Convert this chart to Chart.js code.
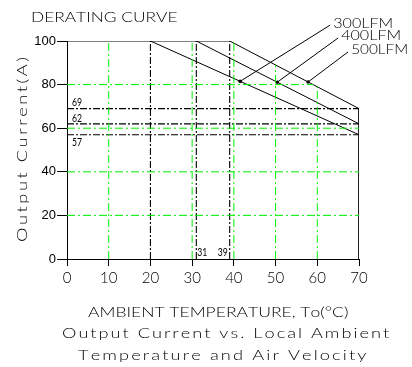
<!DOCTYPE html>
<html>
<head>
<meta charset="utf-8">
<script src="https://cdn.jsdelivr.net/npm/chart.js@4"></script>
<style>
html,body{margin:0;padding:0;background:#fff;}
#wrap{position:relative;width:412px;height:367px;}
</style>
</head>
<body>
<div id="wrap"><canvas id="c" width="412" height="367"></canvas></div>
<script>
// ---- data ----
const xTicks = [0, 10, 20, 30, 40, 50, 60, 70];
const yTicks = [0, 20, 40, 60, 80, 100];

const lfm500Temp = [0, 39, 70, 70];
const lfm500Curr = [100, 100, 69, 0];
const lfm400Temp = [31, 70];
const lfm400Curr = [100, 62];
const lfm300Temp = [20, 70];
const lfm300Curr = [100, 57];

const refCurrents = [69, 62, 57];
const refTemps = [20, 31, 39];

const greenTemps = [10, 30, 40, 50, 60];
const greenTempTops = [100, 100, 99, 89, 79];
const greenCurrents = [20, 40, 60, 80];
const greenCurrentEnds = [70, 70, 70, 59];

const leaderLabels = ['300LFM', '400LFM', '500LFM'];
const leaderFromTemp = [41.5, 50.4, 57.8];
const leaderFromCurr = [81.5, 81.1, 81.2];
const leaderToTemp = [63.1, 65.0, 67.4];
const leaderToCurr = [107.3, 101.4, 95.0];

const titleText = 'DERATING CURVE';
const yTitle = 'Output Current(A)';
const xTitleLines = ['AMBIENT TEMPERATURE, To(\u00B0C)', 'Output Current vs. Local Ambient', 'Temperature and Air Velocity'];

// ---- helpers ----
const FONT = 'Lato, "DejaVu Sans", sans-serif';
function pts(xs, ys) { return xs.map((x, i) => ({x: x, y: ys[i]})); }

const datasets = [];
const GREEN = '#00f000';
greenTemps.forEach((t, i) => datasets.push({
  data: pts([t, t], [0, greenTempTops[i]]), borderColor: GREEN, borderWidth: 1,
  borderDash: [8, 3, 2, 3], pointRadius: 0
}));
greenCurrents.forEach((c, i) => datasets.push({
  data: pts([0, greenCurrentEnds[i]], [c, c]), borderColor: GREEN, borderWidth: 1,
  borderDash: [8, 3, 2, 3], pointRadius: 0
}));
refCurrents.forEach(c => datasets.push({
  data: pts([0, 70], [c, c]), borderColor: '#000', borderWidth: 1.1,
  borderDash: [7, 2, 2, 2], pointRadius: 0
}));
refTemps.forEach(t => datasets.push({
  data: pts([t, t], [0, 100]), borderColor: '#000', borderWidth: 1.1,
  borderDash: [7, 2, 2, 2], pointRadius: 0
}));
[[lfm500Temp, lfm500Curr], [lfm400Temp, lfm400Curr], [lfm300Temp, lfm300Curr]].forEach(p => datasets.push({
  data: pts(p[0], p[1]), borderColor: '#000', borderWidth: 1, pointRadius: 0
}));
leaderLabels.forEach((l, i) => datasets.push({
  data: pts([leaderFromTemp[i], leaderToTemp[i]], [leaderFromCurr[i], leaderToCurr[i]]),
  borderColor: '#000', borderWidth: 1, clip: false,
  pointRadius: [1.8, 0], pointBackgroundColor: '#000', pointBorderWidth: 0
}));

function fitText(ctx, text, x, y, width, font, align) {
  ctx.save();
  ctx.font = font;
  ctx.textBaseline = 'middle';
  ctx.textAlign = 'left';
  const w0 = ctx.measureText(text).width;
  let left = align === 'center' ? x - width / 2 : (align === 'right' ? x - width : x);
  // stretch glyphs horizontally (up to 1.3x), the rest as letter spacing
  const sx = Math.min(width / w0, 1.3);
  ctx.translate(left, y);
  ctx.scale(sx, 1);
  const rest = width / sx - w0;
  const n = text.length;
  const sp = rest > 0 ? rest / Math.max(1, n - 1) : 0;
  let cx = 0;
  for (const ch of text) {
    ctx.fillText(ch, cx, 0);
    cx += ctx.measureText(ch).width + sp;
  }
  ctx.restore();
}

const textPlugin = {
  id: 'texts',
  afterDraw(chart) {
    const ctx = chart.ctx;
    const xs = chart.scales.x, ys = chart.scales.y;
    ctx.fillStyle = '#000';
    const F = '300 14px ' + FONT;
    fitText(ctx, titleText, 31, 17, 145, F, 'left');
    // y title
    ctx.save();
    ctx.translate(22, 150);
    ctx.rotate(-Math.PI / 2);
    fitText(ctx, yTitle, 0, 0, 184, F, 'center');
    ctx.restore();
    // x title lines
    fitText(ctx, xTitleLines[0], 88, 312, 257, F, 'left');
    fitText(ctx, xTitleLines[1], 62, 333, 325, F, 'left');
    fitText(ctx, xTitleLines[2], 78, 355, 284, F, 'left');
    // LFM labels
    leaderLabels.forEach((l, i) => {
      const px = xs.getPixelForValue(leaderToTemp[i]);
      const py = ys.getPixelForValue(leaderToCurr[i]);
      fitText(ctx, l, px + 3, py - 2, i === 2 ? 57 : 60, F, 'left');
    });
    // small value labels
    const SF = '12px "Liberation Sans Narrow", ' + FONT;
    const x0 = xs.getPixelForValue(0);
    refCurrents.forEach((c, i) => {
      const py = ys.getPixelForValue(c);
      fitText(ctx, String(c), x0 + 5, i === 2 ? py + 7 : py - 6, 10, SF, 'left');
    });
    const yb = ys.getPixelForValue(0);
    fitText(ctx, String(refTemps[1]), xs.getPixelForValue(refTemps[1]) + 1, yb - 7, 10, SF, 'left');
    fitText(ctx, String(refTemps[2]), xs.getPixelForValue(refTemps[2]) - 2, yb - 7, 10, SF, 'right');
  }
};

new Chart(document.getElementById('c'), {
  type: 'line',
  data: { datasets: datasets },
  options: {
    responsive: false,
    animation: false,
    events: [],
    layout: { padding: { left: 0, top: 41, right: 53, bottom: 0 } },
    plugins: { legend: { display: false }, tooltip: { enabled: false }, title: { display: false } },
    scales: {
      x: {
        type: 'linear', min: 0, max: 70,
        afterBuildTicks: s => { s.ticks = xTicks.map(v => ({value: v})); },
        afterFit: s => { s.height = 108; },
        grid: { drawOnChartArea: false, drawTicks: true, tickLength: 7, color: '#000' },
        border: { display: true, color: '#000', width: 1 },
        ticks: { color: '#000', font: { family: FONT, size: 15, weight: 300 }, padding: 3, maxRotation: 0 }
      },
      y: {
        type: 'linear', min: 0, max: 100,
        afterBuildTicks: s => { s.ticks = yTicks.map(v => ({value: v})); },
        afterFit: s => { s.width = 67; },
        grid: { drawOnChartArea: false, drawTicks: true, tickLength: 10, color: '#000' },
        border: { display: true, color: '#000', width: 1 },
        ticks: { color: '#000', font: { family: '"Liberation Sans", Arial, sans-serif', size: 13 }, padding: 1 }
      }
    }
  },
  plugins: [textPlugin]
});
</script>
</body>
</html>
